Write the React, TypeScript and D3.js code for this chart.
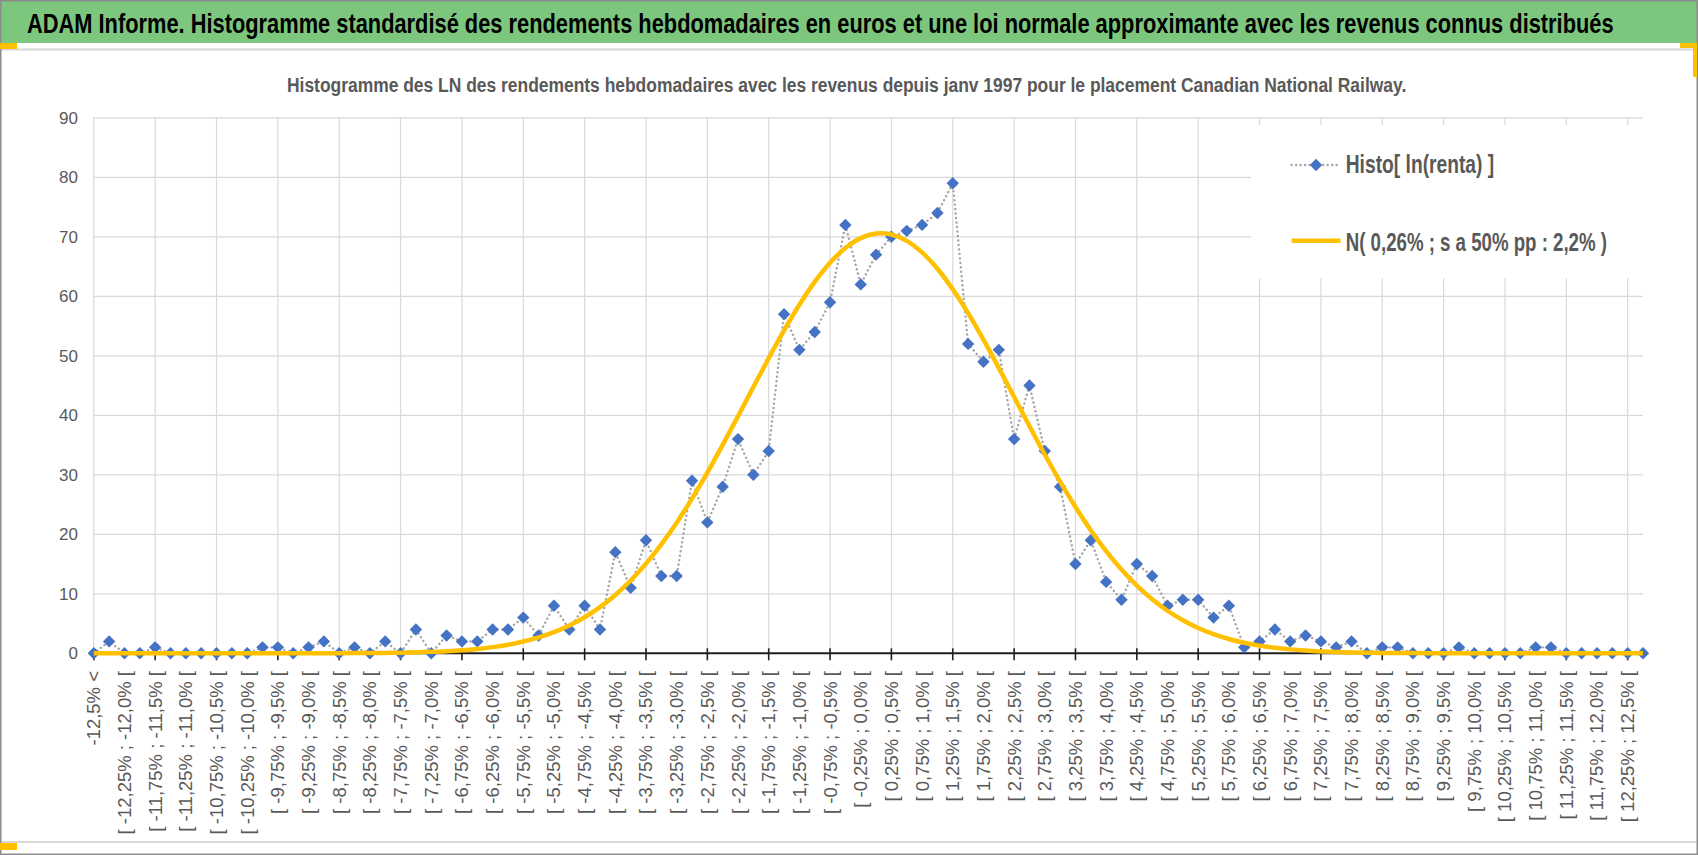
import React, { useEffect, useRef } from 'react'
import * as d3 from 'd3'

const headerTitle =
  'ADAM Informe. Histogramme standardisé des rendements hebdomadaires en euros et une loi normale approximante avec les revenus connus distribués'
const chartTitle =
  'Histogramme  des LN des rendements hebdomadaires avec les revenus depuis janv 1997 pour le placement Canadian National Railway.'

const categories = [
  '-12,5% <',
  '[ -12,5% ; -12,25% [', '[ -12,25% ; -12,0% [', '[ -12,0% ; -11,75% [', '[ -11,75% ; -11,5% [',
  '[ -11,5% ; -11,25% [', '[ -11,25% ; -11,0% [', '[ -11,0% ; -10,75% [', '[ -10,75% ; -10,5% [',
  '[ -10,5% ; -10,25% [', '[ -10,25% ; -10,0% [', '[ -10,0% ; -9,75% [', '[ -9,75% ; -9,5% [',
  '[ -9,5% ; -9,25% [', '[ -9,25% ; -9,0% [', '[ -9,0% ; -8,75% [', '[ -8,75% ; -8,5% [',
  '[ -8,5% ; -8,25% [', '[ -8,25% ; -8,0% [', '[ -8,0% ; -7,75% [', '[ -7,75% ; -7,5% [',
  '[ -7,5% ; -7,25% [', '[ -7,25% ; -7,0% [', '[ -7,0% ; -6,75% [', '[ -6,75% ; -6,5% [',
  '[ -6,5% ; -6,25% [', '[ -6,25% ; -6,0% [', '[ -6,0% ; -5,75% [', '[ -5,75% ; -5,5% [',
  '[ -5,5% ; -5,25% [', '[ -5,25% ; -5,0% [', '[ -5,0% ; -4,75% [', '[ -4,75% ; -4,5% [',
  '[ -4,5% ; -4,25% [', '[ -4,25% ; -4,0% [', '[ -4,0% ; -3,75% [', '[ -3,75% ; -3,5% [',
  '[ -3,5% ; -3,25% [', '[ -3,25% ; -3,0% [', '[ -3,0% ; -2,75% [', '[ -2,75% ; -2,5% [',
  '[ -2,5% ; -2,25% [', '[ -2,25% ; -2,0% [', '[ -2,0% ; -1,75% [', '[ -1,75% ; -1,5% [',
  '[ -1,5% ; -1,25% [', '[ -1,25% ; -1,0% [', '[ -1,0% ; -0,75% [', '[ -0,75% ; -0,5% [',
  '[ -0,5% ; -0,25% [', '[ -0,25% ; 0,0% [', '[ 0,0% ; 0,25% [', '[ 0,25% ; 0,5% [',
  '[ 0,5% ; 0,75% [', '[ 0,75% ; 1,0% [', '[ 1,0% ; 1,25% [', '[ 1,25% ; 1,5% [',
  '[ 1,5% ; 1,75% [', '[ 1,75% ; 2,0% [', '[ 2,0% ; 2,25% [', '[ 2,25% ; 2,5% [',
  '[ 2,5% ; 2,75% [', '[ 2,75% ; 3,0% [', '[ 3,0% ; 3,25% [', '[ 3,25% ; 3,5% [',
  '[ 3,5% ; 3,75% [', '[ 3,75% ; 4,0% [', '[ 4,0% ; 4,25% [', '[ 4,25% ; 4,5% [',
  '[ 4,5% ; 4,75% [', '[ 4,75% ; 5,0% [', '[ 5,0% ; 5,25% [', '[ 5,25% ; 5,5% [',
  '[ 5,5% ; 5,75% [', '[ 5,75% ; 6,0% [', '[ 6,0% ; 6,25% [', '[ 6,25% ; 6,5% [',
  '[ 6,5% ; 6,75% [', '[ 6,75% ; 7,0% [', '[ 7,0% ; 7,25% [', '[ 7,25% ; 7,5% [',
  '[ 7,5% ; 7,75% [', '[ 7,75% ; 8,0% [', '[ 8,0% ; 8,25% [', '[ 8,25% ; 8,5% [',
  '[ 8,5% ; 8,75% [', '[ 8,75% ; 9,0% [', '[ 9,0% ; 9,25% [', '[ 9,25% ; 9,5% [',
  '[ 9,5% ; 9,75% [', '[ 9,75% ; 10,0% [', '[ 10,0% ; 10,25% [', '[ 10,25% ; 10,5% [',
  '[ 10,5% ; 10,75% [', '[ 10,75% ; 11,0% [', '[ 11,0% ; 11,25% [', '[ 11,25% ; 11,5% [',
  '[ 11,5% ; 11,75% [', '[ 11,75% ; 12,0% [', '[ 12,0% ; 12,25% [', '[ 12,25% ; 12,5% [',
  '12,5% <=',
]

// Histo[ ln(renta) ] : effectifs par classe
const histo = [
  0, 2, 0, 0, 1, 0, 0, 0, 0, 0,
  0, 1, 1, 0, 1, 2, 0, 1, 0, 2,
  0, 4, 0, 3, 2, 2, 4, 4, 6, 3,
  8, 4, 8, 4, 17, 11, 19, 13, 13, 29,
  22, 28, 36, 30, 34, 57, 51, 54, 59, 72,
  62, 67, 70, 71, 72, 74, 79, 52, 49, 51,
  36, 45, 34, 28, 15, 19, 12, 9, 15, 13,
  8, 9, 9, 6, 8, 1, 2, 4, 2, 3,
  2, 1, 2, 0, 1, 1, 0, 0, 0, 1,
  0, 0, 0, 0, 1, 1, 0, 0, 0, 0,
  0, 0,
]

// N( 0,26% ; 2,2% )
const normale = [
  0, 0, 0, 0, 0, 0, 0, 0, 0, 0,
  0, 0, 0, 0, 0, 0.01, 0.02, 0.03, 0.05, 0.07,
  0.11, 0.17, 0.25, 0.36, 0.52, 0.74, 1.04, 1.44, 1.98, 2.67,
  3.55, 4.67, 6.06, 7.76, 9.81, 12.24, 15.07, 18.32, 21.96, 26.0,
  30.37, 35.03, 39.85, 44.75, 49.6, 54.26, 58.58, 62.42, 65.64, 68.13,
  69.78, 70.55, 70.39, 69.32, 67.37, 64.62, 61.17, 57.16, 52.71, 47.97,
  43.08, 38.19, 33.41, 28.85, 24.59, 20.68, 17.17, 14.07, 11.37, 9.08,
  7.15, 5.56, 4.26, 3.23, 2.41, 1.78, 1.29, 0.93, 0.66, 0.46,
  0.32, 0.22, 0.15, 0.1, 0.06, 0.04, 0.03, 0.02, 0.01, 0,
  0, 0, 0, 0, 0, 0, 0, 0, 0, 0,
  0, 0,
]

const yTicks = [0, 10, 20, 30, 40, 50, 60, 70, 80, 90]
const legendLabels = ['Histo[ ln(renta) ]', 'N( 0,26% ; s a 50% pp : 2,2% )']

const NARROW = '"Liberation Sans Narrow", "Liberation Sans", Arial, sans-serif'
const GREY = '#595959'

// texte comprimé en largeur (police type Calibri dans l'original)
function fitText(
  g: d3.Selection<SVGGElement, unknown, null, undefined>,
  txt: string,
  x: number,
  y: number,
  width: number,
  size: number,
  color: string
) {
  const t = g
    .append('text')
    .attr('font-family', NARROW)
    .attr('font-weight', 'bold')
    .attr('font-size', size)
    .attr('fill', color)
    .text(txt)
  const natural = (t.node() as SVGTextElement).getComputedTextLength() || width
  t.attr('transform', `translate(${x}, ${y}) scale(${width / natural}, 1)`)
}

const App = () => {
  const svg = useRef<SVGSVGElement>(null)

  useEffect(() => {
    const d3svg = d3.select(svg.current)
    d3svg.selectAll('*').remove()

    const xScale = d3.scalePoint<string>().domain(categories).range([93.8, 1643])
    const yScale = d3.scaleLinear().domain([0, 90]).range([653.3, 117.8])
    const x = (i: number) => xScale(categories[i]) as number

    // fond + cadre
    d3svg.append('rect').attr('width', 1698).attr('height', 855).attr('fill', '#fff')
    d3svg.append('rect').attr('width', 1698).attr('height', 43).attr('fill', '#7dc67e')
    d3svg
      .append('line')
      .attr('x1', 0).attr('x2', 1698).attr('y1', 49.5).attr('y2', 49.5)
      .attr('stroke', '#d6d6d6').attr('stroke-width', 2)
    d3svg
      .append('line')
      .attr('x1', 0).attr('x2', 1698).attr('y1', 842).attr('y2', 842)
      .attr('stroke', '#d9d9d9').attr('stroke-width', 2)
    d3svg
      .append('rect')
      .attr('x', 0.75).attr('y', 0.75).attr('width', 1696.5).attr('height', 853.5)
      .attr('fill', 'none').attr('stroke', '#8c8c8c').attr('stroke-width', 1.5)

    // restes de sélection excel
    const yellow = '#ffc000'
    d3svg.append('rect').attr('x', 0).attr('y', 43).attr('width', 17).attr('height', 6).attr('fill', yellow)
    d3svg.append('rect').attr('x', 0).attr('y', 843).attr('width', 17).attr('height', 7).attr('fill', yellow)
    d3svg.append('rect').attr('x', 1680).attr('y', 43).attr('width', 17).attr('height', 5).attr('fill', yellow)
    d3svg.append('rect').attr('x', 1693).attr('y', 43).attr('width', 4).attr('height', 34).attr('fill', yellow)

    const titles = d3svg.append('g')
    fitText(titles, headerTitle, 27, 33, 1587, 27, '#000')
    fitText(titles, chartTitle, 287, 92, 1120, 20, GREY)

    // grille
    const grid = d3svg.append('g').attr('stroke', '#d9d9d9').attr('stroke-width', 1.2)
    grid
      .selectAll('.hgrid')
      .data(yTicks.filter(d => d > 0))
      .enter()
      .append('line')
      .attr('x1', x(0)).attr('x2', x(categories.length - 1))
      .attr('y1', d => yScale(d)).attr('y2', d => yScale(d))
    const tickIdx = d3.range(0, categories.length, 4)
    grid
      .selectAll('.vgrid')
      .data(tickIdx)
      .enter()
      .append('line')
      .attr('x1', d => x(d)).attr('x2', d => x(d))
      .attr('y1', yScale(90)).attr('y2', yScale(0))

    // axe des ordonnées
    d3svg
      .append('g')
      .selectAll('text')
      .data(yTicks)
      .enter()
      .append('text')
      .attr('x', 78).attr('y', d => yScale(d)).attr('dy', '0.36em')
      .attr('text-anchor', 'end')
      .attr('font-family', NARROW).attr('font-size', 17).attr('fill', GREY)
      .text(d => d)

    // axe des abscisses
    d3svg
      .append('line')
      .attr('x1', x(0)).attr('x2', x(categories.length - 1))
      .attr('y1', yScale(0)).attr('y2', yScale(0))
      .attr('stroke', '#1f1f1f').attr('stroke-width', 2)
    d3svg
      .append('g')
      .selectAll('line')
      .data(tickIdx)
      .enter()
      .append('line')
      .attr('x1', d => x(d)).attr('x2', d => x(d))
      .attr('y1', yScale(0) - 5).attr('y2', yScale(0) + 7)
      .attr('stroke', '#1f1f1f').attr('stroke-width', 1.6)

    d3svg
      .append('g')
      .selectAll('text')
      .data(categories.filter((_, i) => i % 2 === 0))
      .enter()
      .append('text')
      .attr('transform', d => `translate(${xScale(d)}, 671) rotate(-90)`)
      .attr('dy', '0.35em')
      .attr('text-anchor', 'end')
      .attr('font-family', '"Liberation Sans", Arial, sans-serif')
      .attr('font-size', 18.5)
      .attr('fill', GREY)
      .text(d => d)

    // série histogramme : pointillés + losanges
    const line = d3
      .line<number>()
      .x((_, i) => x(i))
      .y(d => yScale(d))
    d3svg
      .append('path')
      .attr('d', line(histo))
      .attr('fill', 'none')
      .attr('stroke', '#a5a5a5')
      .attr('stroke-width', 2.4)
      .attr('stroke-linecap', 'round')
      .attr('stroke-dasharray', '0.1 4.4')

    const diamond = d3.symbol(d3.symbolDiamond2, 98)
    d3svg
      .append('g')
      .selectAll('path')
      .data(histo)
      .enter()
      .append('path')
      .attr('d', diamond)
      .attr('transform', (d, i) => `translate(${x(i)}, ${yScale(d)})`)
      .attr('fill', '#4472c4')

    // loi normale lissée
    const smooth = d3
      .line<number>()
      .x((_, i) => x(i))
      .y(d => yScale(d))
      .curve(d3.curveCatmullRom.alpha(0.5))
    d3svg
      .append('path')
      .attr('d', smooth(normale))
      .attr('fill', 'none')
      .attr('stroke', '#ffc000')
      .attr('stroke-width', 4.5)
      .attr('stroke-linejoin', 'round')

    // légende
    d3svg.append('rect').attr('x', 1251).attr('y', 125).attr('width', 393).attr('height', 153).attr('fill', '#fff')
    d3svg
      .append('line')
      .attr('x1', 1291.6).attr('x2', 1338.7).attr('y1', 165).attr('y2', 165)
      .attr('stroke', '#a5a5a5').attr('stroke-width', 2.4)
      .attr('stroke-linecap', 'round').attr('stroke-dasharray', '0.1 4.4')
    d3svg
      .append('path')
      .attr('d', diamond)
      .attr('transform', 'translate(1316, 165)')
      .attr('fill', '#4472c4')
    d3svg
      .append('line')
      .attr('x1', 1291.6).attr('x2', 1340.5).attr('y1', 240.7).attr('y2', 240.7)
      .attr('stroke', '#ffc000').attr('stroke-width', 4.5)

    const legendPos = [
      { y: 173.3, w: 148.6 },
      { y: 250.7, w: 261.5 },
    ]
    const legend = d3svg.append('g')
    legendLabels.forEach((lab, i) => {
      fitText(legend, lab, 1345.7, legendPos[i].y, legendPos[i].w, 25.5, GREY)
    })
  }, [])

  return (
    <svg
      ref={svg}
      width={1698}
      height={855}
      style={{ position: 'absolute', left: 0, top: 0, display: 'block' }}
    ></svg>
  )
}

export default App
